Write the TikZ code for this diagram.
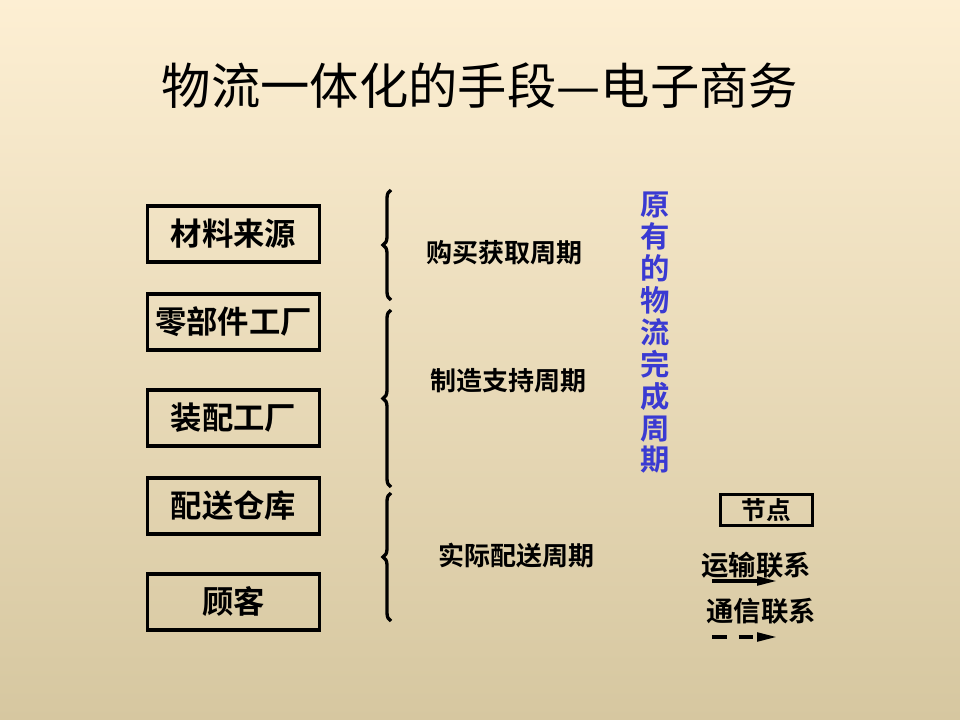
\documentclass[tikz,border=0pt]{standalone}
\usepackage{fontspec}
\newfontfamily\cjk{Noto Sans CJK SC}[BoldFont={Noto Sans CJK SC Bold}]
\usetikzlibrary{decorations.pathreplacing,arrows.meta}
\definecolor{bgtop}{RGB}{253,239,211}
\definecolor{bgbot}{RGB}{214,199,160}
\definecolor{vblue}{RGB}{58,58,210}
\tikzset{
  unitbox/.style={draw=black,line width=2.4pt,minimum width=129pt,minimum height=42pt,inner sep=0pt,font=\cjk\bfseries\fontsize{23.5}{26}\selectfont},
  cyclelabel/.style={font=\cjk\bfseries\fontsize{19.5}{22}\selectfont,inner sep=0pt},
  bracestyle/.style={line width=2.5pt,decorate,decoration={brace,amplitude=6pt}},
  legendtext/.style={font=\cjk\bfseries\fontsize{20.5}{22}\selectfont,inner sep=0pt},
  linkarrow/.style={line width=2.4pt,-{Triangle[length=15pt,width=6.5pt]}},
}
\begin{document}
\begin{tikzpicture}[x=0.75pt,y=-0.75pt]
\shade[top color=bgtop,bottom color=bgbot] (0,0) rectangle (960,720);
\useasboundingbox (0,0) rectangle (960,720);

\node[font=\cjk\fontsize{37}{42}\selectfont,inner sep=0pt] (title) at (480,86) {物流一体化的手段—电子商务};

\node[unitbox] (a) at (233.5,234) {材料来源};
\node[unitbox] (b) at (233.5,322) {零部件工厂};
\node[unitbox] (c) at (233.5,418) {装配工厂};
\node[unitbox] (d) at (233.5,506) {配送仓库};
\node[unitbox] (e) at (233.5,602) {顾客};

\coordinate (b1t) at (391,190);
\coordinate (b1b) at (391,300);
\coordinate (b2t) at (391,310);
\coordinate (b2b) at (391,487);
\coordinate (b3t) at (391,493);
\coordinate (b3b) at (391,621);
\draw[bracestyle] (b1b) -- (b1t);
\draw[bracestyle] (b2b) -- (b2t);
\draw[bracestyle] (b3b) -- (b3t);

\node[cyclelabel] (c1) at (504,253) {购买获取周期};
\node[cyclelabel] (c2) at (508,381) {制造支持周期};
\node[cyclelabel] (c3) at (516,556) {实际配送周期};

\node[font=\cjk\bfseries\fontsize{22}{23.9}\selectfont,text=vblue,align=center,inner sep=0pt] (v) at (655,333)
  {原\\有\\的\\物\\流\\完\\成\\周\\期};

\node[draw=black,line width=2.2pt,minimum width=69pt,minimum height=23pt,inner sep=0pt,font=\cjk\bfseries\fontsize{18.5}{20}\selectfont] (node) at (766.5,510) {节点};

\node[legendtext] (t1) at (756,565) {运输联系};
\coordinate (a1s) at (712,581);
\coordinate (a1e) at (777,581);
\draw[linkarrow] (a1s) -- (a1e);

\node[legendtext] (t2) at (761,611) {通信联系};
\coordinate (a2s) at (712,637);
\coordinate (a2e) at (777,637);
\draw[linkarrow,dash pattern=on 11pt off 9pt] (a2s) -- (a2e);
\end{tikzpicture}
\end{document}
